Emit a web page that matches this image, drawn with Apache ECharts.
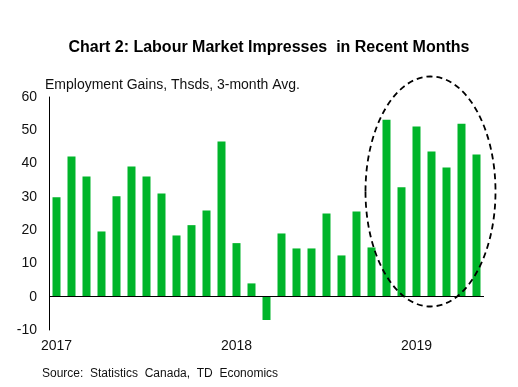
<!DOCTYPE html>
<html>
<head>
<meta charset="utf-8">
<script src="https://cdn.jsdelivr.net/npm/echarts@6/dist/echarts.min.js"></script>
<style>html,body{margin:0;padding:0;background:#fff}#c{width:518px;height:387px}</style>
</head>
<body>
<div id="c"></div>
<script>
var months = ['Jan 2017','Feb 2017','Mar 2017','Apr 2017','May 2017','Jun 2017','Jul 2017','Aug 2017','Sep 2017','Oct 2017','Nov 2017','Dec 2017',
  'Jan 2018','Feb 2018','Mar 2018','Apr 2018','May 2018','Jun 2018','Jul 2018','Aug 2018','Sep 2018','Oct 2018','Nov 2018','Dec 2018',
  'Jan 2019','Feb 2019','Mar 2019','Apr 2019','May 2019'];
var yearLabels = {0:'2017', 12:'2018', 24:'2019'};
var gains = [29.9, 42.1, 36.1, 19.6, 30.2, 39.1, 36.1, 31.0, 18.4, 21.5, 25.9, 46.6,
  16.1, 4.0, -7.0, 19.0, 14.5, 14.5, 25.0, 12.4, 25.6, 14.8,
  53.2, 32.9, 51.1, 43.6, 38.8, 52.0, 42.7];
var yTicks = [-10, 0, 10, 20, 30, 40, 50, 60];

var chart = echarts.init(document.getElementById('c'));
chart.setOption({
  animation: false,
  title: {
    text: 'Chart 2: Labour Market Impresses  in Recent Months',
    left: 264, top: 35, textAlign: 'center',
    textStyle: {fontFamily: 'Liberation Sans, Arial', fontSize: 16, fontWeight: 'bold', color: '#000'}
  },
  grid: {left: 49, top: 97, width: 435, height: 233, containLabel: false},
  xAxis: {
    type: 'category', data: months,
    axisLine: {show: false, onZero: false},
    axisTick: {show: false},
    axisLabel: {
      interval: 0, margin: 9,
      formatter: function (v, i) { return yearLabels[i] || ''; },
      fontFamily: 'Liberation Sans, Arial', fontSize: 14, color: '#111'
    },
    splitLine: {show: false}
  },
  yAxis: {
    type: 'value', min: yTicks[0], max: yTicks[yTicks.length - 1], interval: 10,
    axisLine: {show: true, lineStyle: {color: '#000', width: 1}},
    axisTick: {show: false},
    splitLine: {show: false},
    axisLabel: {margin: 12, fontFamily: 'Liberation Sans, Arial', fontSize: 14, color: '#111'}
  },
  series: [{
    type: 'bar', data: gains, barWidth: 8,
    itemStyle: {color: '#00B52A'},
    markLine: {
      silent: true, symbol: 'none', label: {show: false},
      lineStyle: {color: '#000', width: 1, type: 'solid'},
      data: [{yAxis: 0}]
    }
  }],
  graphic: [
    {type: 'text', left: 45, top: 78, style: {text: 'Employment Gains, Thsds, 3-month Avg.', fontFamily: 'Liberation Sans, Arial', fontSize: 14, fill: '#111'}},
    {type: 'text', left: 42, top: 368, style: {text: 'Source:  Statistics  Canada,  TD  Economics', fontFamily: 'Liberation Sans, Arial', fontSize: 12, fill: '#111'}},
    {type: 'ellipse', shape: {cx: 430.5, cy: 191.5, rx: 65, ry: 115}, style: {fill: 'none', stroke: '#000', lineWidth: 1.8, lineDash: [6, 4]}, z: 10}
  ]
});
</script>
</body>
</html>
